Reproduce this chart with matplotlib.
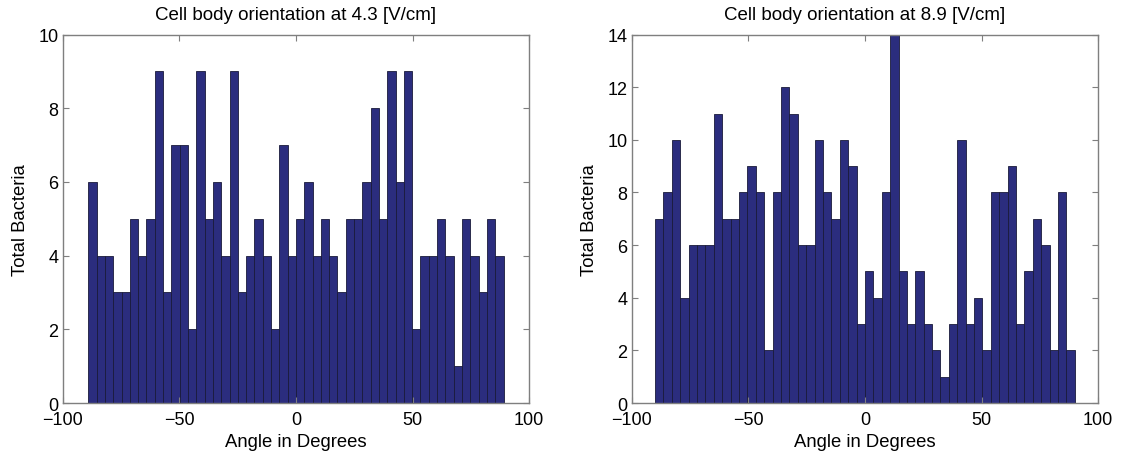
import numpy as np
import matplotlib
matplotlib.use('Agg')
import matplotlib.pyplot as plt

plt.rcParams['font.family'] = ['Liberation Sans', 'DejaVu Sans']

# counts per bin (50 bins each)
counts_43 = [6, 4, 4, 3, 3, 5, 4, 5, 9, 3,
             7, 7, 2, 9, 5, 6, 4, 9, 3, 4,
             5, 4, 2, 7, 4, 5, 6, 4, 5, 4,
             3, 5, 5, 6, 8, 5, 9, 6, 9, 2,
             4, 4, 5, 4, 1, 5, 4, 3, 5, 4]
counts_89 = [7, 8, 10, 4, 6, 6, 6, 11, 7, 7,
             8, 9, 8, 2, 8, 12, 11, 6, 6, 10,
             8, 7, 10, 9, 3, 5, 4, 8, 14, 5,
             3, 5, 3, 2, 1, 3, 10, 3, 4, 2,
             8, 8, 9, 3, 5, 7, 6, 2, 8, 2]
range_43 = (-89, 89)
range_89 = (-90, 90)
titles = ['Cell body orientation at 4.3 [V/cm]', 'Cell body orientation at 8.9 [V/cm]']
ylims = [10, 14]

fig = plt.figure(figsize=(11.24, 4.56), dpi=100)
ax1 = fig.add_axes([0.0558, 0.114, 0.415, 0.808])
ax2 = fig.add_axes([0.562, 0.114, 0.415, 0.808])

bar_color = '#2b2d7e'
grey = '#7f7f7f'

for ax, counts, rng, title, ytop in zip([ax1, ax2], [counts_43, counts_89],
                                        [range_43, range_89], titles, ylims):
    edges = np.linspace(rng[0], rng[1], len(counts) + 1)
    ax.bar(edges[:-1], counts, width=np.diff(edges), align='edge',
           color=bar_color, edgecolor='#1a1a3a', linewidth=0.6)
    ax.set_xlim(-100, 100)
    ax.set_ylim(0, ytop)
    ax.set_xticks([-100, -50, 0, 50, 100])
    ax.set_xticklabels(['\u2212100', '\u221250', '0', '50', '100'])
    ax.set_yticks(np.arange(0, ytop + 1, 2))
    ax.tick_params(direction='in', top=True, right=True, length=4,
                   width=0.8, color=grey, labelsize=13)
    ax.tick_params(axis='x', pad=6)
    ax.tick_params(axis='y', pad=3)
    for s in ax.spines.values():
        s.set_color(grey)
        s.set_linewidth(1.0)
    ax.set_title(title, fontsize=13.5, pad=11)
    ax.set_xlabel('Angle in Degrees', fontsize=13.3, labelpad=3)
    ax.set_ylabel('Total Bacteria', fontsize=13.3, labelpad=7)

fig.savefig('out.png', dpi=100)
